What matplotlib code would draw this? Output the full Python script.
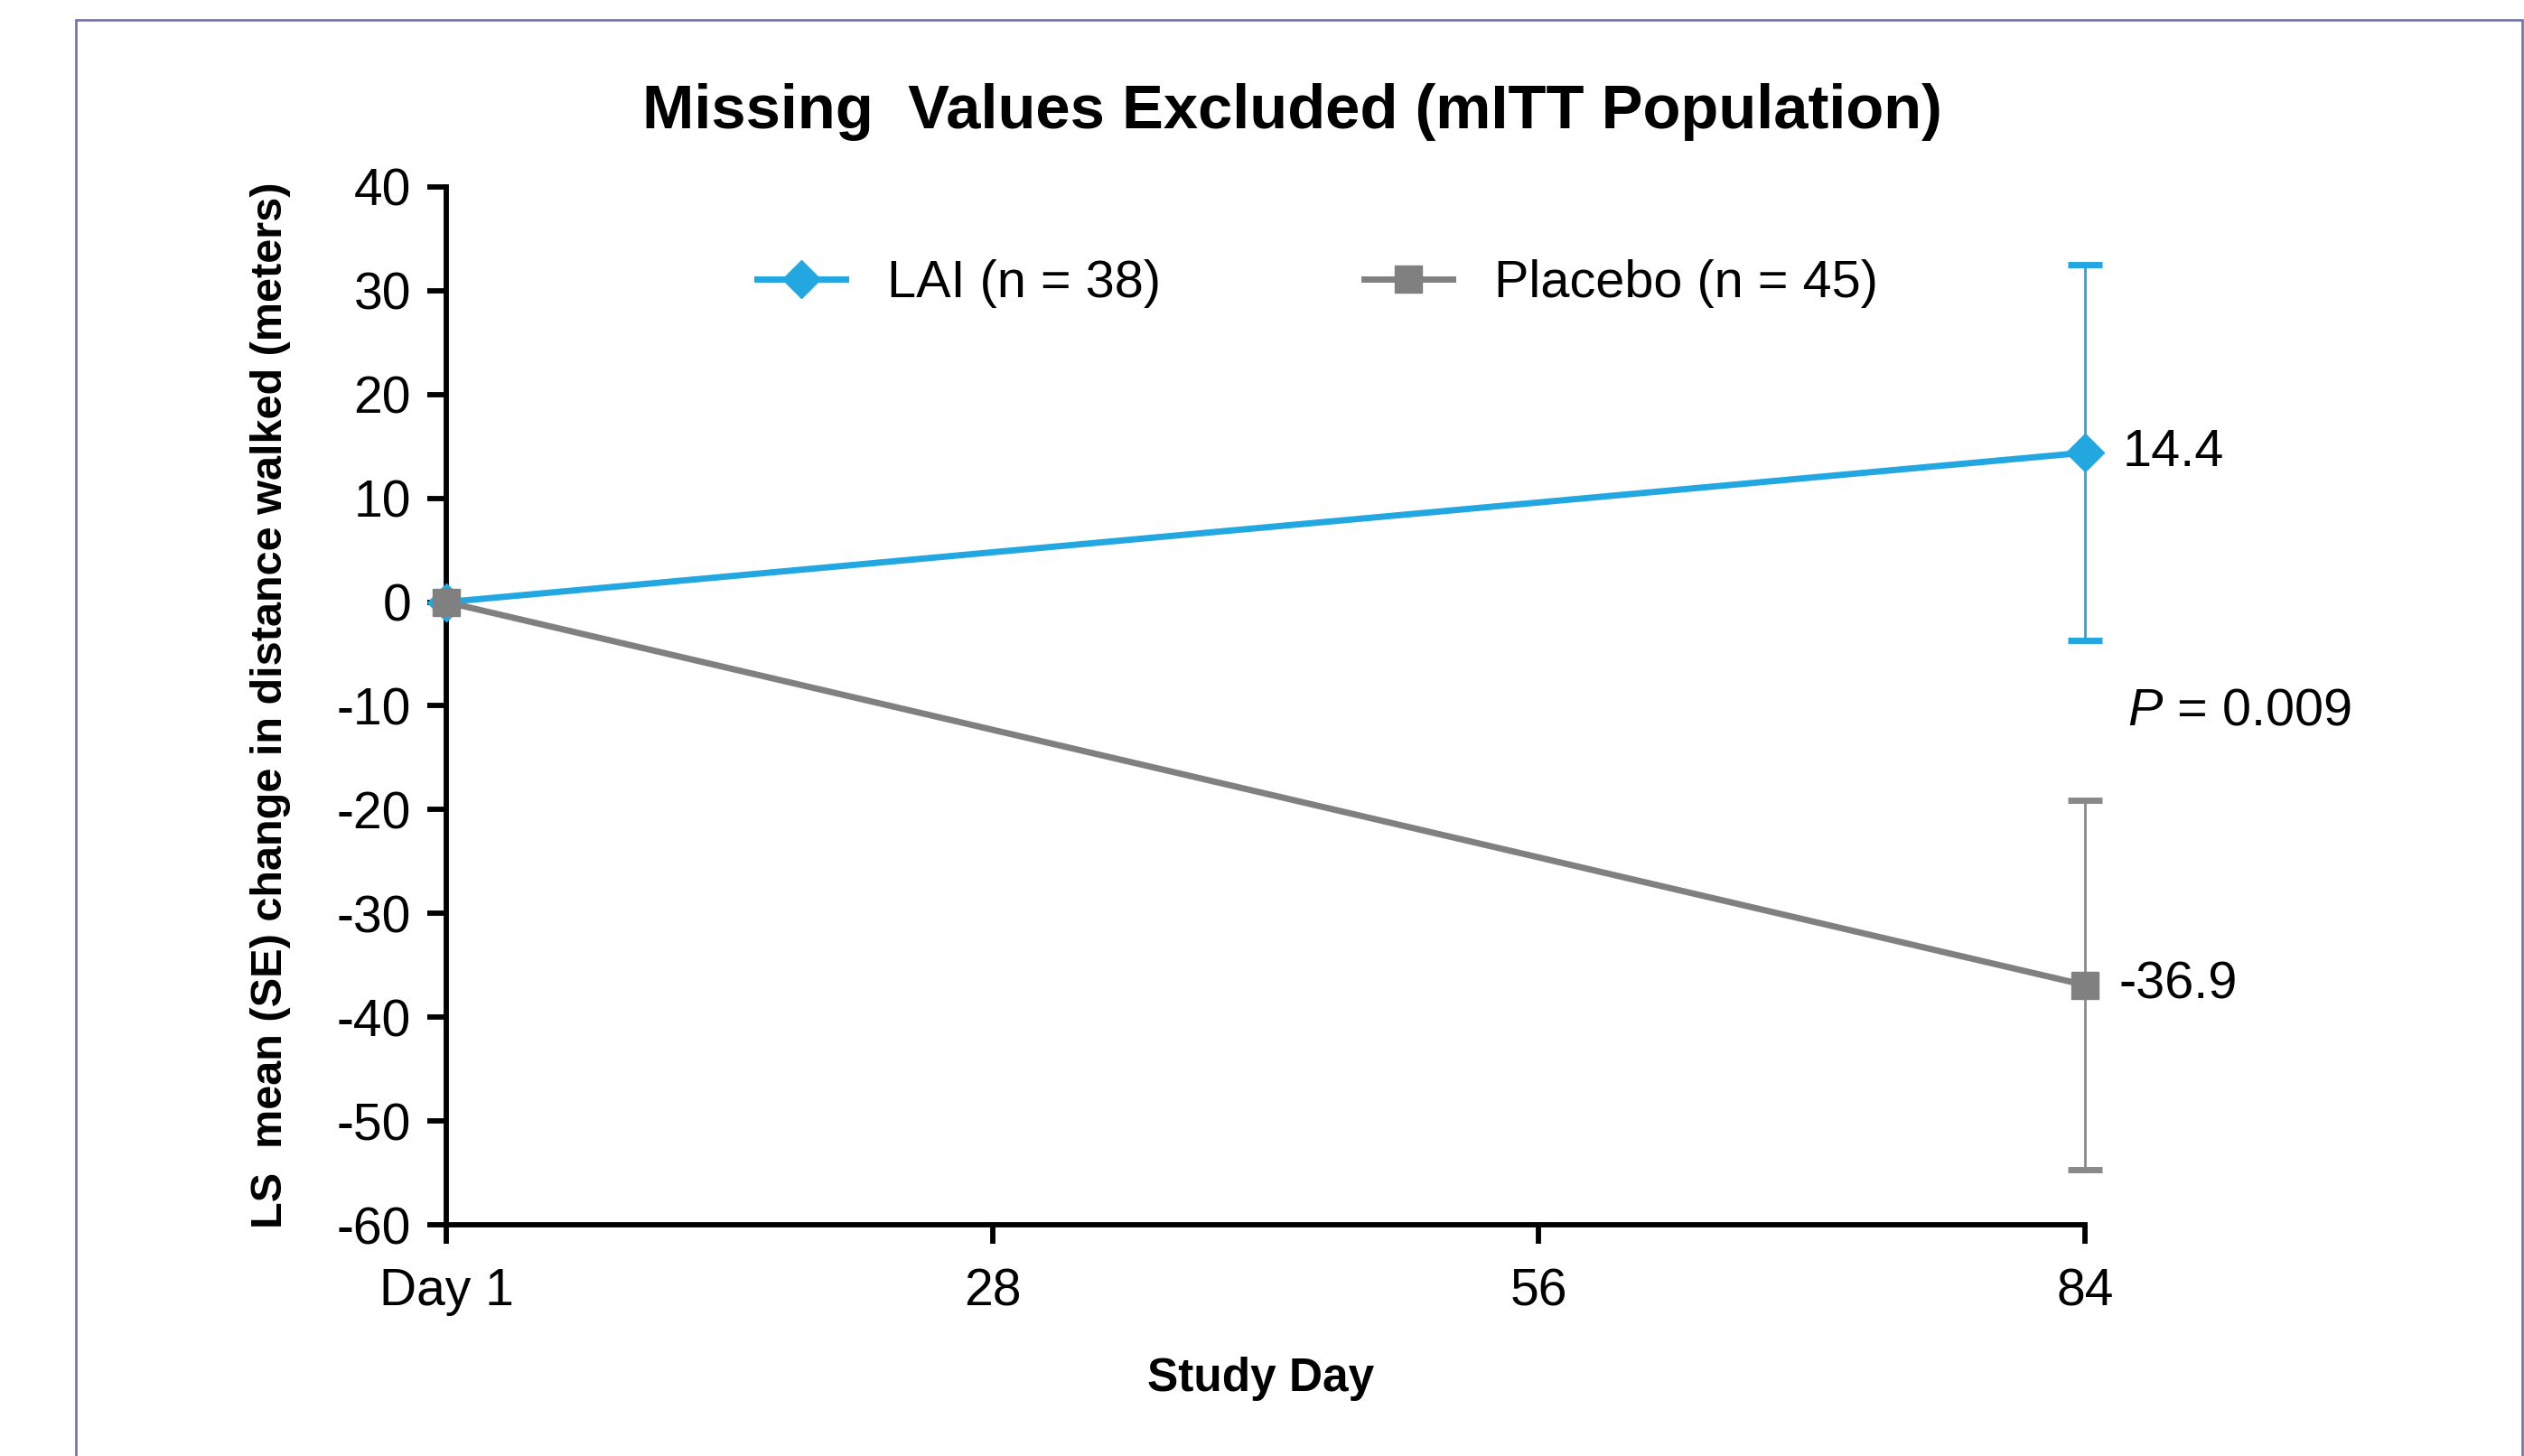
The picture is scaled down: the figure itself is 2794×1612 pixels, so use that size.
import matplotlib
matplotlib.use("Agg")
import matplotlib.pyplot as plt
from matplotlib.patches import Rectangle

plt.rcParams["font.family"] = ["Liberation Sans", "DejaVu Sans"]
plt.rcParams["mathtext.fontset"] = "custom"
plt.rcParams["mathtext.it"] = "Liberation Sans:italic"
plt.rcParams["mathtext.rm"] = "Liberation Sans"
plt.rcParams["axes.unicode_minus"] = False

# Data
days = [0, 28, 56, 84]
day_labels = ["Day 1", "28", "56", "84"]
lai_days = [0, 84]
lai_mean = [0, 14.4]
lai_se = [0, 18.1]
placebo_days = [0, 84]
placebo_mean = [0, -36.9]
placebo_se = [0, 17.8]
p_value_text = "0.009"

blue = "#22a7e0"
gray = "#808080"

fig = plt.figure(figsize=(27.94, 16.12), dpi=100)
ax = fig.add_axes([0.1768, 0.1588, 0.6492, 0.7128])

# Placebo series with SE bars
ax.errorbar(placebo_days[1:], placebo_mean[1:], yerr=placebo_se[1:], fmt="none",
            ecolor="#8a8a8a", elinewidth=2, capsize=13.5, capthick=5, clip_on=False)
# LAI series with SE bars
ax.errorbar(lai_days[1:], lai_mean[1:], yerr=lai_se[1:], fmt="none",
            ecolor=blue, elinewidth=2, capsize=13.5, capthick=5, clip_on=False)

ax.plot(lai_days, lai_mean, color=blue, lw=5, marker="D", ms=21,
        label="LAI (n = 38)", clip_on=False, zorder=3)
ax.plot(placebo_days, placebo_mean, color=gray, lw=5, marker="s", ms=22,
        label="Placebo (n = 45)", clip_on=False, zorder=4)

# Value labels at day 84
ax.annotate(f"{lai_mean[1]}", (lai_days[1], lai_mean[1]), xytext=(30, 0),
            textcoords="offset points", va="center", ha="left", fontsize=41.5,
            annotation_clip=False)
ax.annotate(f"{placebo_mean[1]}", (placebo_days[1], placebo_mean[1]), xytext=(27, 0),
            textcoords="offset points", va="center", ha="left", fontsize=41.5,
            annotation_clip=False)
ax.annotate(r"$\it{P}$ = " + p_value_text, (84, -10.5), xytext=(34, 0),
            textcoords="offset points", va="center", ha="left", fontsize=41.5,
            annotation_clip=False)

ax.set_xlim(0, 84)
ax.set_ylim(-60, 40)
ax.set_xticks(days)
ax.set_xticklabels(day_labels)
ax.set_yticks(range(-60, 41, 10))

for side in ["top", "right"]:
    ax.spines[side].set_visible(False)
for side in ["left", "bottom"]:
    ax.spines[side].set_linewidth(4.2)
ax.tick_params(axis="both", length=15, width=4.2, labelsize=41, direction="out")
ax.tick_params(axis="y", pad=13)
ax.tick_params(axis="x", pad=19)

ax.set_xlabel("Study Day", fontsize=37, fontweight="bold")
ax.xaxis.label.set_va("center")
ax.xaxis.set_label_coords(0.497, -0.148)
ax.set_ylabel("LS  mean (SE) change in distance walked (meters)", fontsize=35,
              fontweight="bold")
ax.yaxis.label.set_va("center")
ax.yaxis.set_label_coords(-0.107, 0.501)

fig.text(0.512, 0.923, "Missing  Values Excluded (mITT Population)",
         fontsize=49.5, fontweight="bold", ha="center", va="center")

ax.legend(loc="center", bbox_to_anchor=(0.522, 0.805),
          bbox_transform=fig.transFigure, ncol=2, frameon=False, fontsize=41.5,
          handlelength=1.7, handletextpad=0.8, columnspacing=3.9)

# purple frame around the panel (bottom edge runs off the image)
fig.add_artist(Rectangle((84 / 2794, -0.05), (2792 - 84) / 2794, 1.05 - 22 / 1612,
                         transform=fig.transFigure, fill=False,
                         edgecolor="#6f6fb4", linewidth=1.9))

fig.savefig("out.png", dpi=100)
